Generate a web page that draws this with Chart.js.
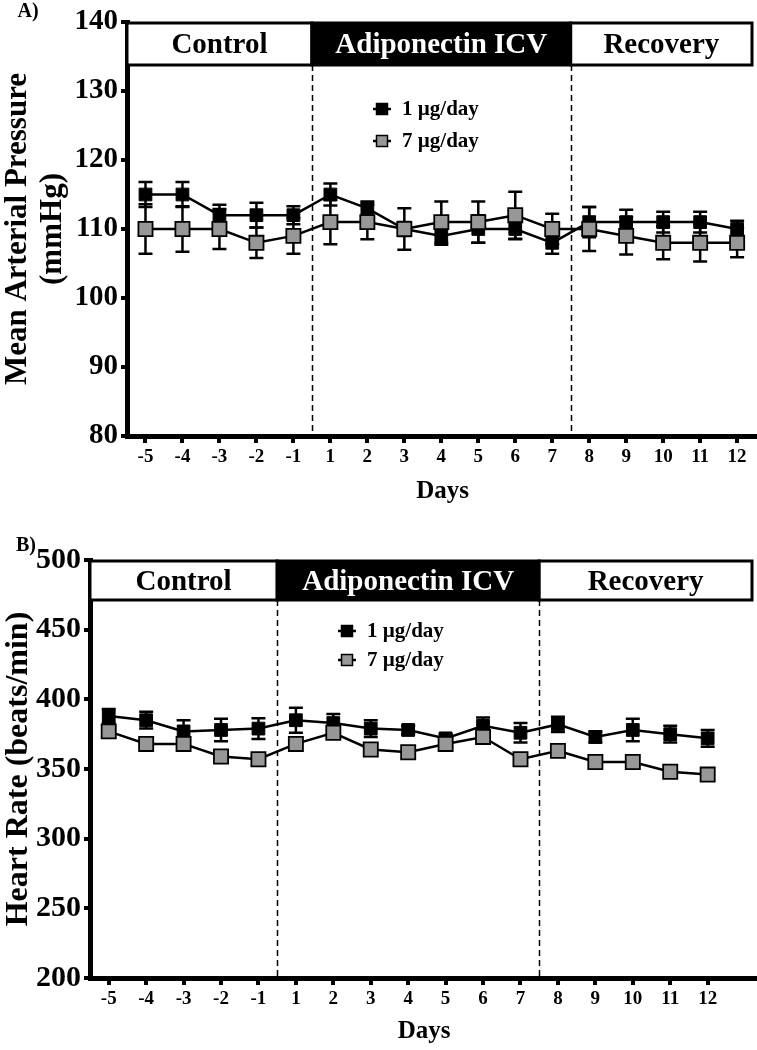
<!DOCTYPE html>
<html><head><meta charset="utf-8">
<script src="https://cdn.jsdelivr.net/npm/chart.js@4.4.1/dist/chart.umd.min.js"></script>
<style>
html,body{margin:0;padding:0;background:#fff;}
#wrap{position:relative;width:757px;height:1050px;overflow:hidden;}
.box{position:absolute;left:0;width:770px;height:525px;}
</style></head><body>
<div id="wrap">
<div class="box" style="top:0"><canvas id="cA" width="770" height="525"></canvas></div>
<div class="box" style="top:525px"><canvas id="cB" width="770" height="525"></canvas></div>
</div>
<script>
// ---- data ----
const days = ['-5','-4','-3','-2','-1','1','2','3','4','5','6','7','8','9','10','11','12'];
const phases = ['Control','Adiponectin ICV','Recovery'];
const phaseStartIdx = [0, 5, 12];
const seriesNames = ['1 \u00b5g/day','7 \u00b5g/day'];

const mapLow     = [115,115,112,112,112,115,113,110,109,110,110,108,111,111,111,111,110];
const mapLowErr  = [1.8,1.8,1.5,1.8,1.3,1.6,1.0,1.0,1.3,2.0,1.5,1.6,2.2,1.8,1.5,1.5,1.2];
const mapHigh    = [110,110,110,108,109,111,111,110,111,111,112,110,110,109,108,108,108];
const mapHighErr = [3.6,3.3,2.9,2.2,2.6,3.2,2.5,3.0,3.0,3.0,3.4,2.2,3.2,2.7,2.4,2.7,2.1];

const hrLow      = [388,385,377,378,379,385,383,379,378,372,381,376,382,373,378,375,372];
const hrLowErr   = [5,6,8,8,7.5,9,6.5,6,3,3,6,7,5.5,4,8,6,6];
const hrHigh     = [377,368,368,359,357,368,376,364,362,368,373,357,363,355,355,348,346];
const hrHighErr  = [3,3,3,3,3,3,3,3,3,3,3,3,3,3,3,3,3];

const mapTicks = [80,90,100,110,120,130,140];
const hrTicks  = [200,250,300,350,400,450,500];

// ---- drawing ----
const FONT = "'Liberation Serif','Times New Roman',serif";
const GRAY = '#979797';

const overlay = {
  id: 'overlay',
  beforeDatasetsDraw(chart, args, o) {
    const {ctx, chartArea, scales: {x, y}} = chart;
    ctx.save();
    ctx.strokeStyle = '#000'; ctx.lineWidth = 1.5; ctx.setLineDash([6, 4]);
    for (let k = 1; k < phaseStartIdx.length; k++) {
      const px = Math.round(x.getPixelForValue(phaseStartIdx[k] - 0.5)) + 0.5;
      ctx.beginPath(); ctx.moveTo(px, chartArea.top + o.headerH); ctx.lineTo(px, chartArea.bottom); ctx.stroke();
    }
    ctx.setLineDash([]);
    ctx.lineWidth = 2.5;
    chart.data.datasets.forEach(ds => {
      ds.data.forEach((p, i) => {
        const e = ds.errors[i];
        const px = x.getPixelForValue(p.x);
        const y1 = y.getPixelForValue(p.y + e), y2 = y.getPixelForValue(p.y - e);
        ctx.beginPath();
        ctx.moveTo(px, y1); ctx.lineTo(px, y2);
        ctx.moveTo(px - 7, y1); ctx.lineTo(px + 7, y1);
        ctx.moveTo(px - 7, y2); ctx.lineTo(px + 7, y2);
        ctx.stroke();
      });
    });
    ctx.restore();
  },
  afterDatasetsDraw(chart, args, o) {
    const {ctx, chartArea, scales: {x}} = chart;
    ctx.save();
    const top = chartArea.top + 1, bot = chartArea.top + o.headerH;
    const b = phaseStartIdx.map(s => x.getPixelForValue(s - 0.5));
    b.push(o.headerRight);
    ctx.lineWidth = 3; ctx.strokeStyle = '#000';
    for (let k = 0; k < phases.length; k++) {
      const x0 = b[k], x1 = b[k + 1];
      ctx.fillStyle = k === 1 ? '#000' : '#fff';
      ctx.fillRect(x0, top, x1 - x0, bot - top);
      ctx.strokeRect(x0, top, x1 - x0, bot - top);
      ctx.fillStyle = k === 1 ? '#fff' : '#000';
      ctx.font = 'bold ' + o.headerFont + 'px ' + FONT;
      ctx.textAlign = 'center'; ctx.textBaseline = 'middle';
      ctx.fillText(phases[k], (x0 + x1) / 2, (top + bot) / 2 + 2);
    }
    ctx.font = 'bold ' + o.legendFont + 'px ' + FONT;
    ctx.textAlign = 'left'; ctx.textBaseline = 'middle';
    seriesNames.forEach((name, k) => {
      const lx = o.legendX, ly = o.legendY + k * o.legendGap;
      ctx.strokeStyle = '#000'; ctx.lineWidth = 2.5;
      ctx.beginPath(); ctx.moveTo(lx - 9, ly); ctx.lineTo(lx + 9, ly); ctx.stroke();
      ctx.fillStyle = k === 0 ? '#000' : GRAY;
      ctx.lineWidth = 1.5;
      ctx.fillRect(lx - 5.5, ly - 5.5, 11, 11);
      ctx.strokeRect(lx - 5.5, ly - 5.5, 11, 11);
      ctx.fillStyle = '#000';
      ctx.fillText(name, lx + 20, ly + 1);
    });
    ctx.font = 'bold 20px ' + FONT;
    ctx.textAlign = 'center';
    ctx.fillText(o.panel, o.panelX, o.panelY);
    ctx.restore();
  }
};

function makeChart(id, s) {
  const mk = (vals) => vals.map((v, i) => ({x: i, y: v}));
  return new Chart(document.getElementById(id), {
    type: 'line',
    data: {
      datasets: [
        {label: seriesNames[0], data: mk(s.low), errors: s.lowErr, order: 1,
         borderColor: '#000', borderWidth: 2.5, pointStyle: 'rect', pointRadius: 9,
         pointBackgroundColor: '#000', pointBorderColor: '#000', pointBorderWidth: 1, tension: 0},
        {label: seriesNames[1], data: mk(s.high), errors: s.highErr, order: 0,
         borderColor: '#000', borderWidth: 2.5, pointStyle: 'rect', pointRadius: 10,
         pointBackgroundColor: GRAY, pointBorderColor: '#000', pointBorderWidth: 1.8, tension: 0}
      ]
    },
    options: {
      responsive: false, animation: false, devicePixelRatio: 1,
      layout: {padding: {top: s.padTop, right: 0, left: 0, bottom: 0}},
      plugins: {legend: {display: false}, tooltip: {enabled: false}, overlay: s.ov},
      scales: {
        x: {
          type: 'linear', min: -0.5, max: s.xMax,
          afterBuildTicks: sc => { sc.ticks = days.map((d, i) => ({value: i})); },
          afterFit: sc => { sc.height = s.xH; sc.paddingLeft = 0; sc.paddingRight = 0; },
          grid: {display: true, drawOnChartArea: false, drawTicks: true, tickLength: 7, tickWidth: 4, tickColor: '#000', lineWidth: 0},
          border: {display: true, width: 5, color: '#000'},
          ticks: {autoSkip: false, maxRotation: 0, padding: 3, color: '#000',
                  font: {family: FONT, size: 19, weight: 'bold'},
                  callback: v => days[v] !== undefined ? days[v] : ''},
          title: {display: true, text: 'Days', color: '#000', font: {family: FONT, size: 25, weight: 'bold'},
                  padding: {top: 0, bottom: s.daysPad}}
        },
        y: {
          min: s.yTicks[0], max: s.yTicks[s.yTicks.length - 1],
          afterBuildTicks: sc => { sc.ticks = s.yTicks.map(v => ({value: v})); },
          afterFit: sc => { sc.width = s.yW; },
          grid: {display: true, drawOnChartArea: false, drawTicks: true, tickLength: 6, tickWidth: 4, tickColor: '#000', lineWidth: 0},
          border: {display: true, width: 5, color: '#000'},
          ticks: {padding: 3, color: '#000', font: {family: FONT, size: s.yFont, weight: 'bold'}},
          title: {display: true, text: s.yTitle, color: '#000',
                  font: {family: FONT, size: s.yTitleFont, weight: 'bold', lineHeight: 1.15},
                  padding: {top: s.yTitlePad, bottom: 0}}
        }
      }
    },
    plugins: [overlay]
  });
}

makeChart('cA', {
  low: mapLow, lowErr: mapLowErr, high: mapHigh, highErr: mapHighErr,
  yTicks: mapTicks, xMax: 16.57, xH: 89, yW: 127, padTop: 22, yFont: 29,
  yTitle: ['Mean Arterial Pressure', '(mmHg)'], yTitleFont: 31, yTitlePad: 0, daysPad: 18,
  ov: {headerH: 43, headerRight: 752, headerFont: 29, legendFont: 21,
       legendX: 382, legendY: 109, legendGap: 32, panel: 'A)', panelX: 28, panelY: 12}
});
makeChart('cB', {
  low: hrLow, lowErr: hrLowErr, high: hrHigh, highErr: hrHighErr,
  yTicks: hrTicks, xMax: 17.35, xH: 72, yW: 90, padTop: 35, yFont: 30,
  yTitle: 'Heart Rate (beats/min)', yTitleFont: 32, yTitlePad: 0, daysPad: 3,
  ov: {headerH: 40, headerRight: 752, headerFont: 29, legendFont: 21,
       legendX: 347, legendY: 106, legendGap: 29, panel: 'B)', panelX: 26, panelY: 21}
});
</script>
</body></html>
